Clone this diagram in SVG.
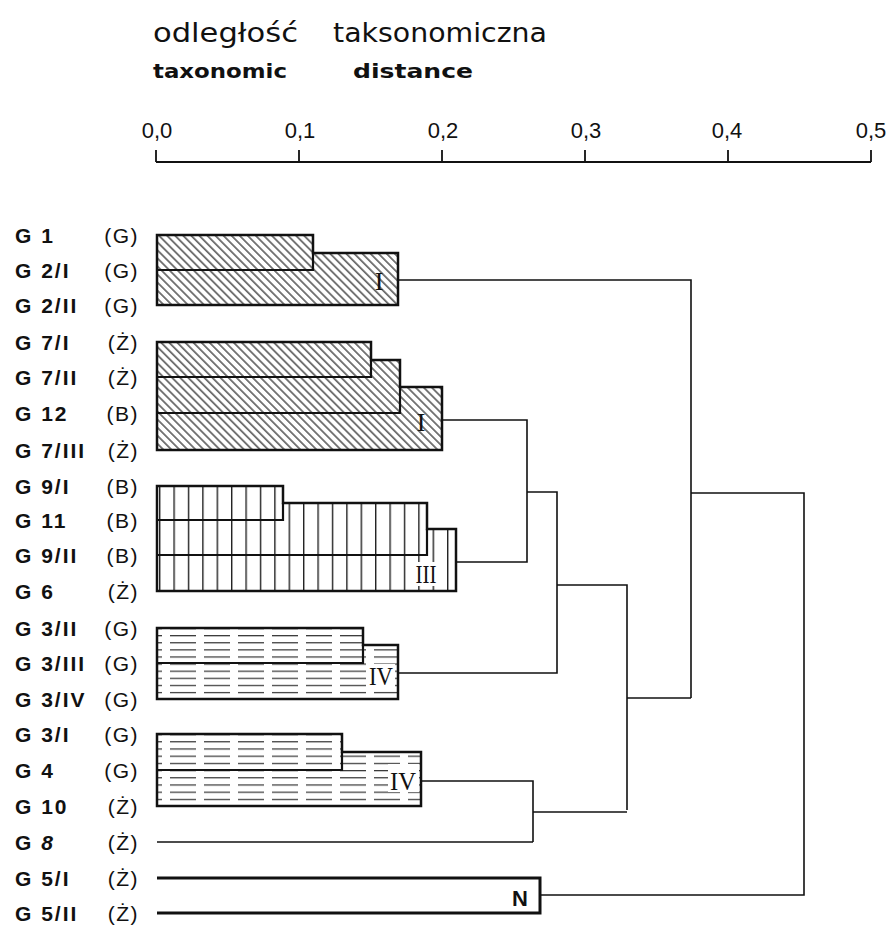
<svg xmlns="http://www.w3.org/2000/svg" width="895" height="927" viewBox="0 0 895 927">
<style>
.lbl{font-family:"Liberation Sans","DejaVu Sans",sans-serif;font-size:21px;font-weight:bold;fill:#111;letter-spacing:2px}
.code{font-family:"Liberation Sans","DejaVu Sans",sans-serif;font-size:21px;fill:#111;text-anchor:end;letter-spacing:1.5px}
.ax{font-family:"Liberation Sans","DejaVu Sans",sans-serif;font-size:22px;fill:#111;text-anchor:middle}
.ttl{font-family:"DejaVu Sans","Liberation Sans",sans-serif;fill:#111}
.rom{font-family:"Liberation Serif","DejaVu Serif",serif;font-size:26px;fill:#111;text-anchor:middle}
.box{stroke:#111;stroke-width:2.5;stroke-linejoin:miter}
.inner{fill:none;stroke:#111;stroke-width:2.2}
.con{fill:none;stroke:#111;stroke-width:1.6}
</style>
<defs>
<pattern id="hD" patternUnits="userSpaceOnUse" width="12" height="5.7" patternTransform="rotate(45)">
<rect x="0" y="2.3" width="12" height="1.2" fill="#222"/>
</pattern>
<pattern id="hV" patternUnits="userSpaceOnUse" x="159" y="0" width="14.4" height="40">
<rect x="0" y="0" width="1.4" height="40" fill="#222"/>
</pattern>
<pattern id="hHa" patternUnits="userSpaceOnUse" x="0" y="628" width="34" height="7.1">
<rect x="0" y="0" width="26" height="1.2" fill="#333"/>
</pattern>
<pattern id="hHb" patternUnits="userSpaceOnUse" x="0" y="734" width="34" height="7.2">
<rect x="0" y="0" width="26" height="1.2" fill="#333"/>
</pattern>
</defs>
<rect width="895" height="927" fill="#fff"/>

<g id="title">
<text class="ttl" x="153" y="42" font-size="26" textLength="145" lengthAdjust="spacingAndGlyphs">odległość</text>
<text class="ttl" x="333" y="42" font-size="26" textLength="214" lengthAdjust="spacingAndGlyphs">taksonomiczna</text>
<text class="ttl" x="153" y="78" font-size="19" font-weight="bold" textLength="134" lengthAdjust="spacingAndGlyphs">taxonomic</text>
<text class="ttl" x="353" y="78" font-size="19" font-weight="bold" textLength="120" lengthAdjust="spacingAndGlyphs">distance</text>
</g>

<g id="axis">
<path d="M156,162 H871 M156,150 V162 M299,150 V162 M442,150 V162 M585,150 V162 M728,150 V162 M871,150 V162" fill="none" stroke="#111" stroke-width="1.8"/>
<text class="ax" x="157" y="138">0,0</text>
<text class="ax" x="300" y="138">0,1</text>
<text class="ax" x="443" y="138">0,2</text>
<text class="ax" x="586" y="138">0,3</text>
<text class="ax" x="727" y="138">0,4</text>
<text class="ax" x="871" y="138">0,5</text>
</g>

<g id="leaves">
<g id="G1"><text class="lbl" x="15" y="243">G 1</text><text class="code" x="139" y="243">(G)</text></g>
<g id="G2I"><text class="lbl" x="15" y="278">G 2/I</text><text class="code" x="139" y="278">(G)</text></g>
<g id="G2II"><text class="lbl" x="15" y="313">G 2/II</text><text class="code" x="139" y="313">(G)</text></g>
<g id="G7I"><text class="lbl" x="15" y="350">G 7/I</text><text class="code" x="139" y="350">(Ż)</text></g>
<g id="G7II"><text class="lbl" x="15" y="385">G 7/II</text><text class="code" x="139" y="385">(Ż)</text></g>
<g id="G12"><text class="lbl" x="15" y="421">G 12</text><text class="code" x="139" y="421">(B)</text></g>
<g id="G7III"><text class="lbl" x="15" y="458">G 7/III</text><text class="code" x="139" y="458">(Ż)</text></g>
<g id="G9I"><text class="lbl" x="15" y="494">G 9/I</text><text class="code" x="139" y="494">(B)</text></g>
<g id="G11"><text class="lbl" x="15" y="528">G 11</text><text class="code" x="139" y="528">(B)</text></g>
<g id="G9II"><text class="lbl" x="15" y="563">G 9/II</text><text class="code" x="139" y="563">(B)</text></g>
<g id="G6"><text class="lbl" x="15" y="599">G 6</text><text class="code" x="139" y="599">(Ż)</text></g>
<g id="G3II"><text class="lbl" x="15" y="636">G 3/II</text><text class="code" x="139" y="636">(G)</text></g>
<g id="G3III"><text class="lbl" x="15" y="671">G 3/III</text><text class="code" x="139" y="671">(G)</text></g>
<g id="G3IV"><text class="lbl" x="15" y="707">G 3/IV</text><text class="code" x="139" y="707">(G)</text></g>
<g id="G3I"><text class="lbl" x="15" y="742">G 3/I</text><text class="code" x="139" y="742">(G)</text></g>
<g id="G4"><text class="lbl" x="15" y="778">G 4</text><text class="code" x="139" y="778">(G)</text></g>
<g id="G10"><text class="lbl" x="15" y="814">G 10</text><text class="code" x="139" y="814">(Ż)</text></g>
<g id="G8"><text class="lbl" x="15" y="850">G <tspan font-style="italic">8</tspan></text><text class="code" x="139" y="850">(Ż)</text></g>
<g id="G5I"><text class="lbl" x="15" y="886">G 5/I</text><text class="code" x="139" y="886">(Ż)</text></g>
<g id="G5II"><text class="lbl" x="15" y="921">G 5/II</text><text class="code" x="139" y="921">(Ż)</text></g>
</g>

<g id="clusterIa">
<path class="box" d="M157,235 H313 V253 H398 V305 H157 Z" fill="url(#hD)"/>
<path class="inner" d="M157,270 H313 V253"/>
<text class="rom" x="379" y="290">I</text>
</g>

<g id="clusterIb">
<path class="box" d="M157,342 H371 V360 H400 V387 H442 V450 H157 Z" fill="url(#hD)"/>
<path class="inner" d="M157,377 H371 V360 M157,413 H400 V387"/>
<text class="rom" x="421" y="431">I</text>
</g>

<g id="clusterIII">
<path class="box" d="M157,486 H283 V503 H427 V529 H456 V591 H157 Z" fill="url(#hV)"/>
<path class="inner" d="M157,520 H283 V503 M157,555 H427 V529"/>
<rect x="414" y="562" width="24" height="24" fill="#fff"/>
<text class="rom" x="426" y="583" textLength="21" lengthAdjust="spacingAndGlyphs">III</text>
</g>

<g id="clusterIVa">
<path class="box" d="M157,628 H363 V645 H398 V699 H157 Z" fill="url(#hHa)"/>
<path class="inner" d="M157,663 H363 V645"/>
<rect x="368" y="664" width="27" height="24" fill="#fff"/>
<text class="rom" x="381" y="685" textLength="24" lengthAdjust="spacingAndGlyphs">IV</text>
</g>

<g id="clusterIVb">
<path class="box" d="M157,734 H342 V752 H421 V806 H157 Z" fill="url(#hHb)"/>
<path class="inner" d="M157,770 H342 V752"/>
<rect x="388" y="764" width="31" height="28" fill="#fff"/>
<text class="rom" x="403" y="790" textLength="26" lengthAdjust="spacingAndGlyphs">IV</text>
</g>

<g id="leafG8">
<path class="con" d="M157,842 H533"/>
</g>

<g id="clusterN">
<path d="M157,878 H540 V913 H157" fill="none" stroke="#111" stroke-width="3"/>
<text x="520" y="906" font-family="Liberation Sans, DejaVu Sans, sans-serif" font-size="22" font-weight="bold" fill="#111" text-anchor="middle">N</text>
</g>

<g id="connectors">
<path class="con" d="M398,280 H691 V698"/>
<path class="con" d="M442,420 H527 V562 H456"/>
<path class="con" d="M527,492 H557 V673 H398"/>
<path class="con" d="M557,585 H627 V810"/>
<path class="con" d="M421,781 H533 V842"/>
<path class="con" d="M533,812 H627"/>
<path class="con" d="M627,698 H691"/>
<path class="con" d="M691,493 H804 V895 H540"/>
</g>
</svg>
